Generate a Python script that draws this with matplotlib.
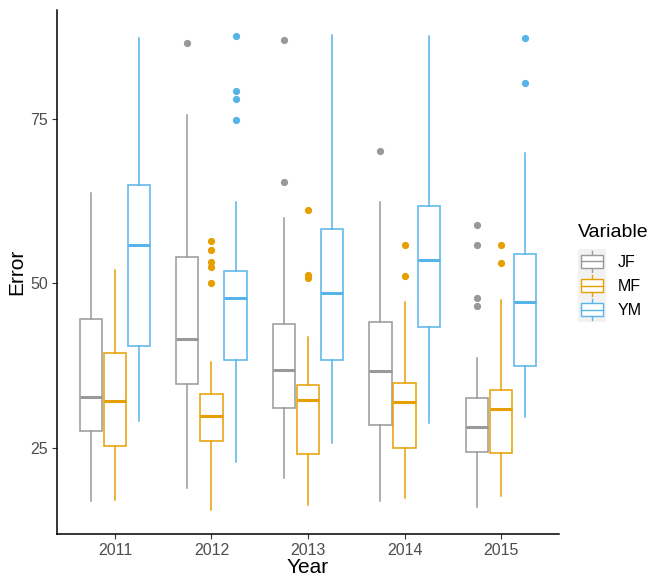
import numpy as np
import matplotlib.pyplot as plt
from matplotlib.legend_handler import HandlerBase
from matplotlib.patches import Rectangle
from matplotlib.lines import Line2D

plt.rcParams['font.family'] = ['Liberation Sans', 'DejaVu Sans']

years = ["2011", "2012", "2013", "2014", "2015"]
variables = ["JF", "MF", "YM"]
colors = {"JF": "#999999", "MF": "#E69F00", "YM": "#56B4E9"}

# per variable, per year: (whislo, q1, med, q3, whishi)
stats_JF = [(16.8, 27.5, 32.7, 44.5, 63.7),
            (18.9, 34.7, 41.5, 54.0, 75.6),
            (20.3, 31.0, 36.8, 43.8, 59.9),
            (16.9, 28.4, 36.6, 44.1, 62.4),
            (15.9, 24.4, 28.1, 32.6, 38.7)]
stats_MF = [(17.1, 25.3, 32.1, 39.4, 52.1),
            (15.5, 26.0, 29.8, 33.2, 38.1),
            (16.2, 24.1, 32.3, 34.6, 41.9),
            (17.4, 25.0, 32.0, 34.8, 47.1),
            (17.6, 24.2, 30.9, 33.7, 47.5)]
stats_YM = [(29.0, 40.5, 55.9, 64.9, 87.3),
            (22.8, 38.3, 47.7, 51.9, 62.4),
            (25.7, 38.3, 48.5, 58.3, 87.8),
            (28.8, 43.3, 53.6, 61.8, 87.6),
            (29.6, 37.4, 47.2, 54.4, 69.8)]

outliers_JF = [[], [86.6], [87.0, 65.4], [70.2], [58.9, 55.9, 47.7, 46.5]]
outliers_MF = [[], [56.5, 55.1, 53.2, 52.5, 50.0], [61.2, 51.3, 50.8], [55.9, 51.1], [55.9, 53.1]]
outliers_YM = [[], [87.6, 79.2, 78.1, 74.9], [], [], [87.3, 80.5]]

all_stats = {"JF": stats_JF, "MF": stats_MF, "YM": stats_YM}
all_out = {"JF": outliers_JF, "MF": outliers_MF, "YM": outliers_YM}
offsets = {"JF": -0.25, "MF": 0.0, "YM": 0.25}

fig = plt.figure(figsize=(6.5, 5.78), dpi=100)
ax = fig.add_axes([57 / 650, 44 / 578, (559 - 57) / 650, (534 - 10) / 578])

for var in variables:
    c = colors[var]
    bstats = []
    for i, (lo, q1, med, q3, hi) in enumerate(all_stats[var]):
        bstats.append(dict(whislo=lo, q1=q1, med=med, q3=q3, whishi=hi,
                           fliers=all_out[var][i]))
    pos = [i + 1 + offsets[var] for i in range(len(years))]
    ax.bxp(bstats, positions=pos, widths=0.23, showcaps=False,
           patch_artist=True, manage_ticks=False,
           boxprops=dict(facecolor="white", edgecolor=c, linewidth=1.1),
           whiskerprops=dict(color=c, linewidth=1.1),
           medianprops=dict(color=c, linewidth=2.2),
           flierprops=dict(marker="o", markerfacecolor=c, markeredgecolor=c,
                           markersize=4.2, linestyle="none"))

ax.set_xlim(0.4, 5.6)
ax.set_ylim(11.85, 91.6)
ax.set_xticks(range(1, 6))
ax.set_xticklabels(years)
ax.set_yticks([25, 50, 75])

for s in ["top", "right"]:
    ax.spines[s].set_visible(False)
for s in ["left", "bottom"]:
    ax.spines[s].set_linewidth(1.1)
    ax.spines[s].set_color("black")
ax.tick_params(axis="both", colors="#333333", labelcolor="#4D4D4D",
               labelsize=11.5, length=3.5, width=0.8, pad=3)
ax.set_xlabel("Year", fontsize=15, labelpad=0)
ax.set_ylabel("Error", fontsize=15, labelpad=3)


class BoxKey(HandlerBase):
    def create_artists(self, legend, orig_handle, xd, yd, width, height, fontsize, trans):
        c = orig_handle.get_color()
        bg = Rectangle((-xd, -yd), width, height, facecolor="#F2F2F2",
                       edgecolor="none", transform=trans)
        cx = -xd + width / 2
        bw = width * 0.78
        bh = height * 0.52
        by = -yd + (height - bh) / 2
        box = Rectangle((cx - bw / 2, by), bw, bh, facecolor="white",
                        edgecolor=c, linewidth=1.0, transform=trans)
        med = Line2D([cx - bw / 2, cx + bw / 2], [by + bh / 2] * 2, color=c,
                     linewidth=1.0, transform=trans)
        w1 = Line2D([cx, cx], [-yd + height * 0.06, by], color=c,
                    linewidth=1.0, transform=trans)
        w2 = Line2D([cx, cx], [by + bh, -yd + height * 0.94], color=c,
                    linewidth=1.0, transform=trans)
        return [bg, w1, w2, box, med]


handles = [Line2D([], [], color=colors[v]) for v in variables]
leg = fig.legend(handles, variables, handler_map={Line2D: BoxKey()},
                 title="Variable", loc="upper left",
                 bbox_to_anchor=(578 / 650, 1 - 224 / 578),
                 frameon=False, fontsize=11.5, title_fontsize=14,
                 handlelength=1.75, handleheight=1.95, labelspacing=0.0,
                 handletextpad=0.75, borderpad=0.0, borderaxespad=0.0)
leg._legend_box.align = "left"
leg._legend_box.sep = 6

fig.savefig("out.png", dpi=100)
